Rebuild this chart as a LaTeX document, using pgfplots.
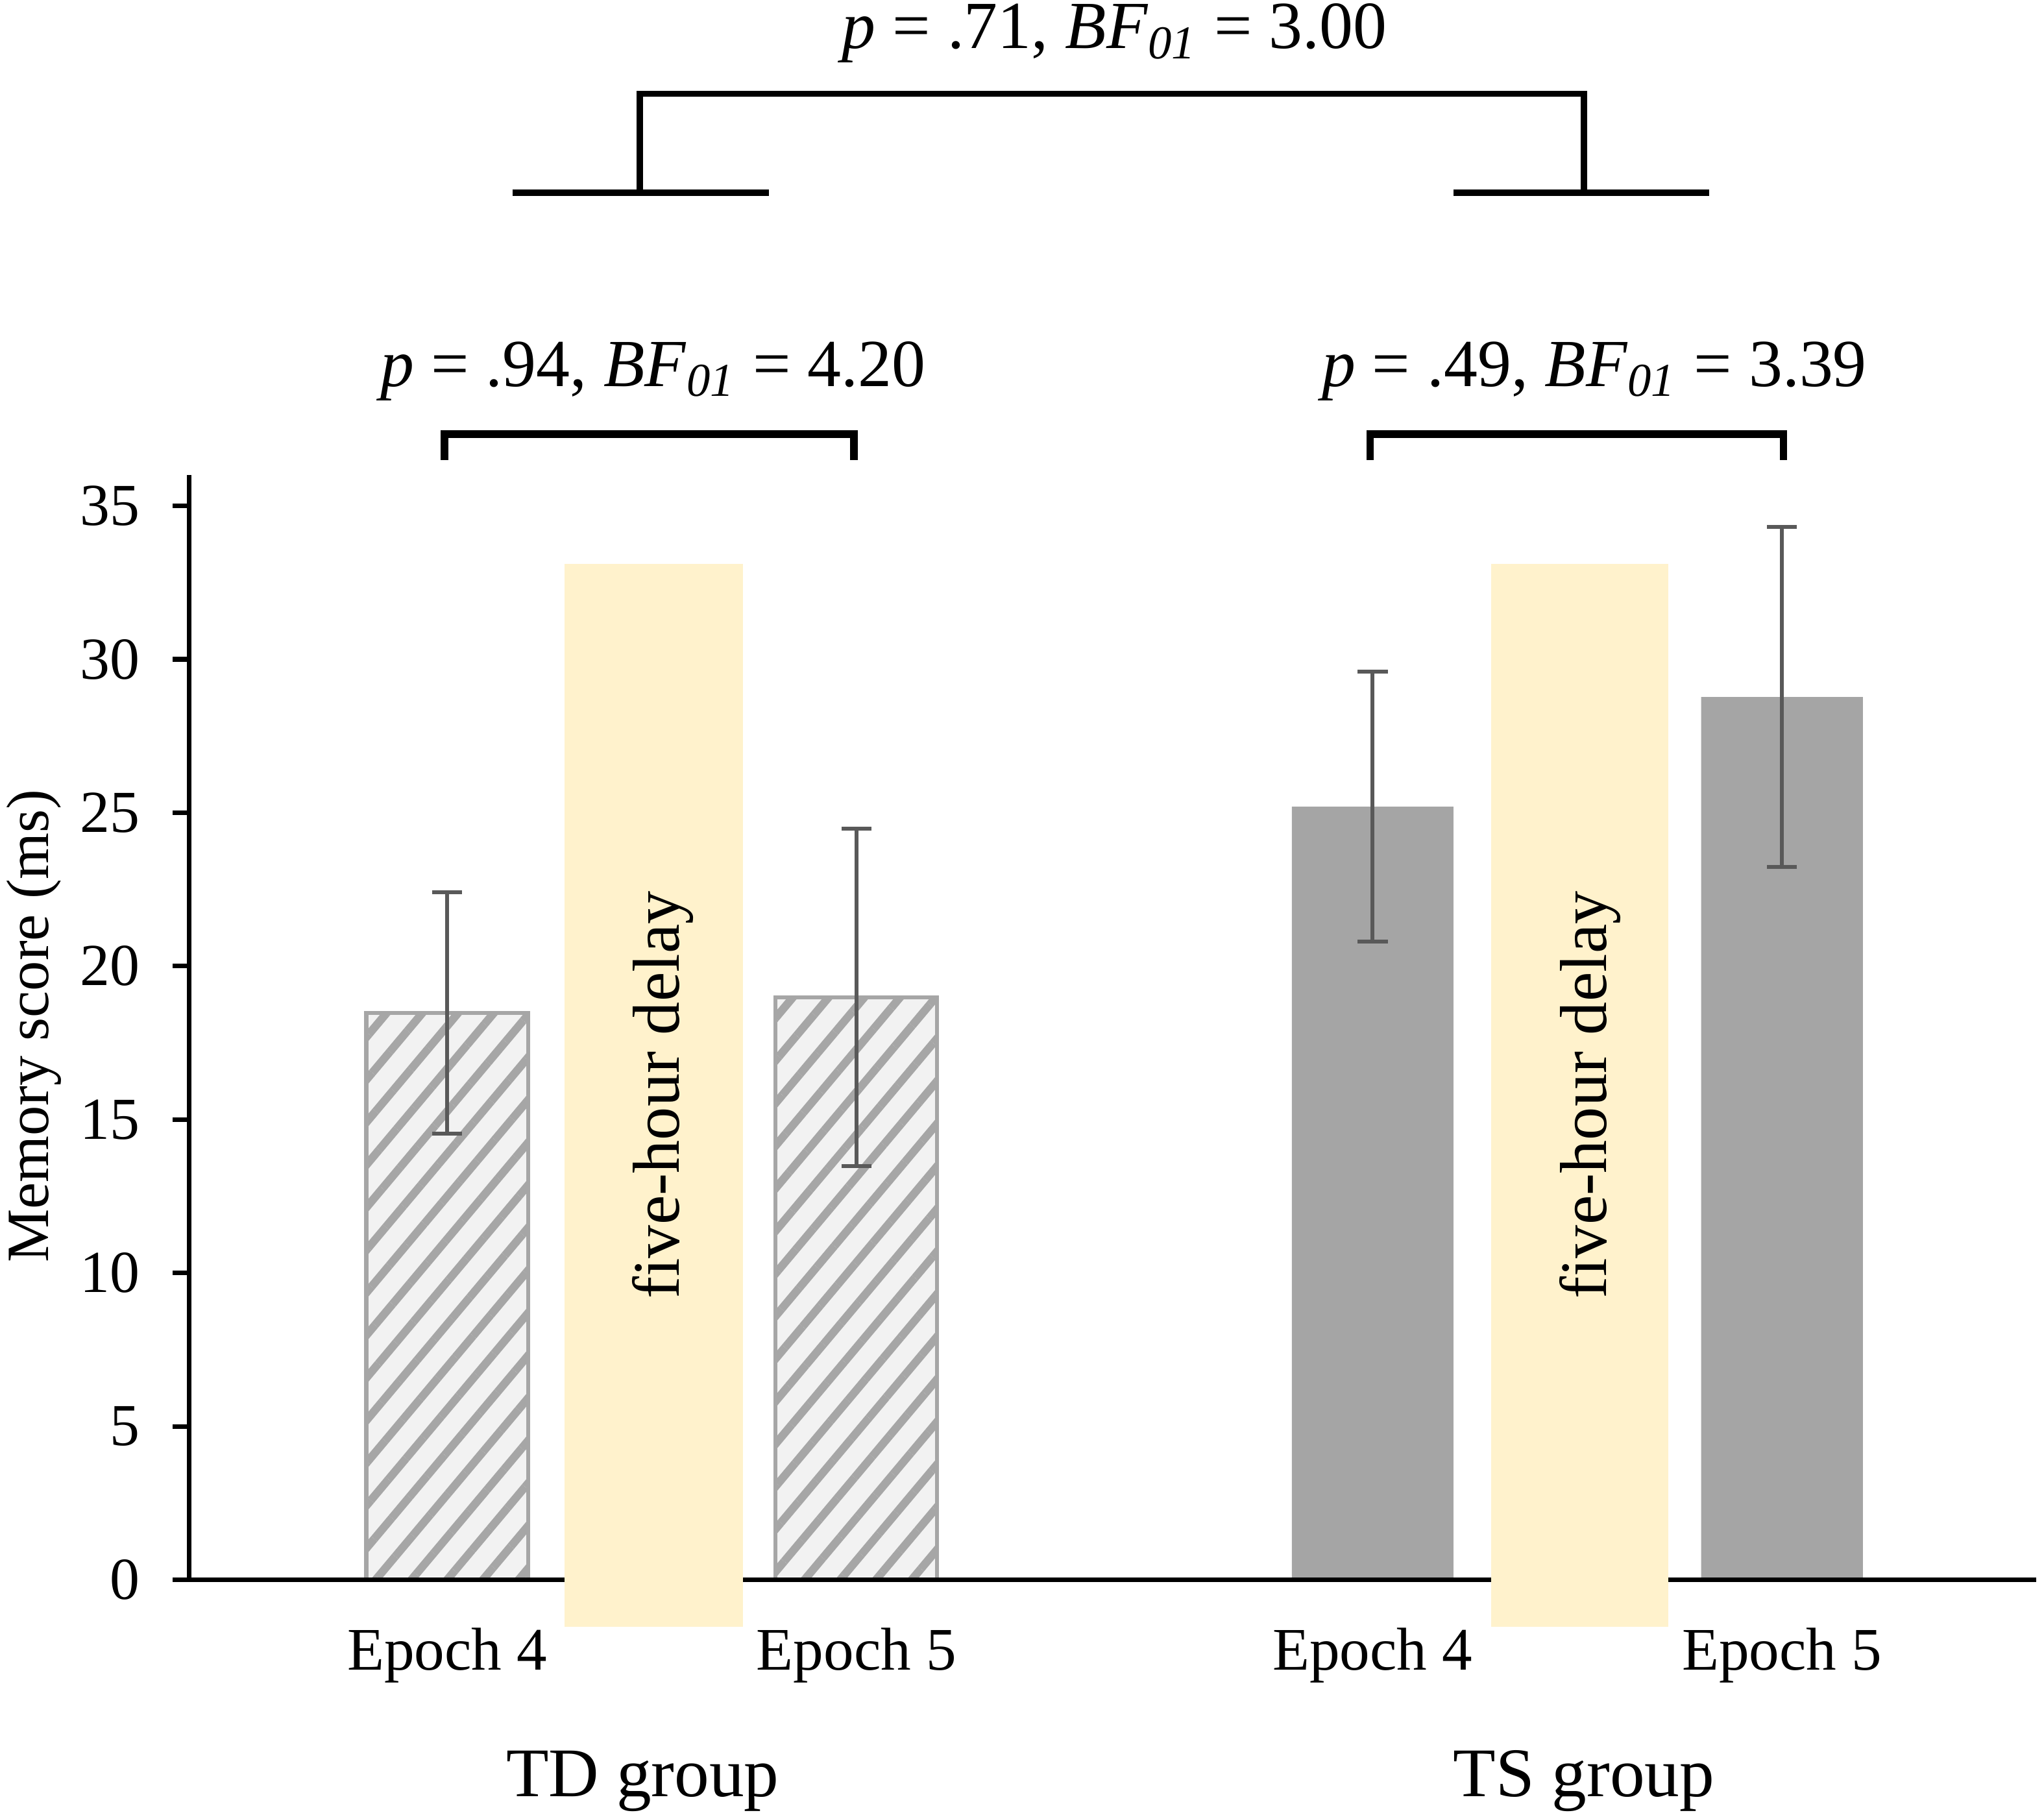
\documentclass[border=0pt]{standalone}
\usepackage{pgfplots}
\pgfplotsset{compat=1.18}
\usepackage{fontspec}
\setmainfont{Liberation Serif}
\usetikzlibrary{patterns.meta}
\definecolor{band}{HTML}{FFF2CC}
\definecolor{barsolid}{HTML}{A5A5A5}
\definecolor{hatchline}{HTML}{A6A6A6}
\definecolor{hatchbg}{HTML}{F2F2F2}
\definecolor{errgray}{HTML}{595959}
\newcommand{\annfont}{\fontsize{14.7}{17}\selectfont}
\begin{document}
\begin{tikzpicture}
\begin{axis}[
  scale only axis, width=14.17cm, height=8.474cm,
  xmin=1.45, xmax=15.62, ymin=0, ymax=36,
  axis x line=bottom, axis y line=left,
  axis line style={line width=1pt, -, black},
  ytick={0,5,...,35},
  xtick={3.43,6.57,10.53,13.67},
  xticklabels={Epoch 4,Epoch 5,Epoch 4,Epoch 5},
  x tick style={draw=none},
  major tick length=1.25mm, tick align=outside,
  y tick style={line width=1pt, black},
  yticklabel style={font=\fontsize{13}{15}\selectfont, xshift=-1.3mm},
  xticklabel style={font=\fontsize{13.2}{16}\selectfont, yshift=-1.2mm},
  /pgf/number format/assume math mode=true,
  clip=false, set layers, axis on top,
]
% bounding frame of the whole figure
\path (axis cs:0,-7.647) rectangle (axis cs:15.68,51.487);

% TD group (hatched bars)
\addplot[ybar, bar shift=0pt, bar width=1.24, draw=hatchline, line width=0.3mm, fill=hatchbg,
  postaction={pattern={Lines[angle=50,distance=2.1mm,line width=0.62mm]}, pattern color=hatchline}]
  coordinates {(3.43,18.48) (6.57,18.99)};
% TS group (solid bars)
\addplot[ybar, bar shift=0pt, bar width=1.24, draw=none, fill=barsolid]
  coordinates {(10.53,25.2) (13.67,28.77)};

% error bars
\addplot[only marks, mark=*, mark size=0pt, color=errgray,
  error bars/.cd, y dir=both, y explicit,
  error bar style={line width=0.3mm, color=errgray},
  error mark options={rotate=90, mark size=1.15mm, line width=0.3mm, color=errgray}]
  coordinates {
    (3.43,18.48) +- (0,3.93)
    (6.57,18.99) +- (0,5.5)
    (10.53,25.2) +- (0,4.4)
    (13.67,28.77) +- (0,5.54)
  };

% five-hour delay bands
\addplot[on layer=axis foreground, fill=band, draw=none]
  coordinates {(4.33,-1.53) (5.70,-1.53) (5.70,33.1) (4.33,33.1)} -- cycle;
\addplot[on layer=axis foreground, fill=band, draw=none]
  coordinates {(11.44,-1.53) (12.80,-1.53) (12.80,33.1) (11.44,33.1)} -- cycle;

\begin{pgfonlayer}{axis foreground}
\node[rotate=90, anchor=base, inner sep=0pt, font=\fontsize{14.5}{17}\selectfont] at (axis cs:5.21,15.8) {five-hour delay};
\node[rotate=90, anchor=base, inner sep=0pt, font=\fontsize{14.5}{17}\selectfont] at (axis cs:12.32,15.8) {five-hour delay};
\end{pgfonlayer}

% y label
\node[rotate=90, anchor=base, inner sep=0pt, font=\fontsize{13.1}{16}\selectfont] at (axis cs:0.37,18.05) {Memory score (ms)};

% group labels
\node[anchor=base, inner sep=0pt, font=\fontsize{15.2}{18}\selectfont] at (axis cs:4.93,-7.05) {TD group};
\node[anchor=base, inner sep=0pt, font=\fontsize{15.2}{18}\selectfont] at (axis cs:12.15,-7.05) {TS group};

% brackets
\draw[line width=1.6pt] (axis cs:3.41,36.5) -- (axis cs:3.41,37.34) -- (axis cs:6.55,37.34) -- (axis cs:6.55,36.5);
\draw[line width=1.6pt] (axis cs:10.51,36.5) -- (axis cs:10.51,37.34) -- (axis cs:13.68,37.34) -- (axis cs:13.68,36.5);
\draw[line width=1.4pt] (axis cs:4.91,45.2) -- (axis cs:4.91,48.43) -- (axis cs:12.15,48.43) -- (axis cs:12.15,45.2);
\draw[line width=1.4pt] (axis cs:3.93,45.2) -- (axis cs:5.90,45.2);
\draw[line width=1.4pt] (axis cs:11.15,45.2) -- (axis cs:13.11,45.2);

% annotations
\node[anchor=base, inner sep=0pt, font=\annfont] at (axis cs:5.01,38.9) {\textit{p} = .94, \textit{BF}\textsubscript{\textit{01}} = 4.20};
\node[anchor=base, inner sep=0pt, font=\annfont] at (axis cs:12.23,38.9) {\textit{p} = .49, \textit{BF}\textsubscript{\textit{01}} = 3.39};
\node[anchor=base, inner sep=0pt, font=\annfont] at (axis cs:8.55,49.9) {\textit{p} = .71, \textit{BF}\textsubscript{\textit{01}} = 3.00};
\end{axis}
\end{tikzpicture}
\end{document}
